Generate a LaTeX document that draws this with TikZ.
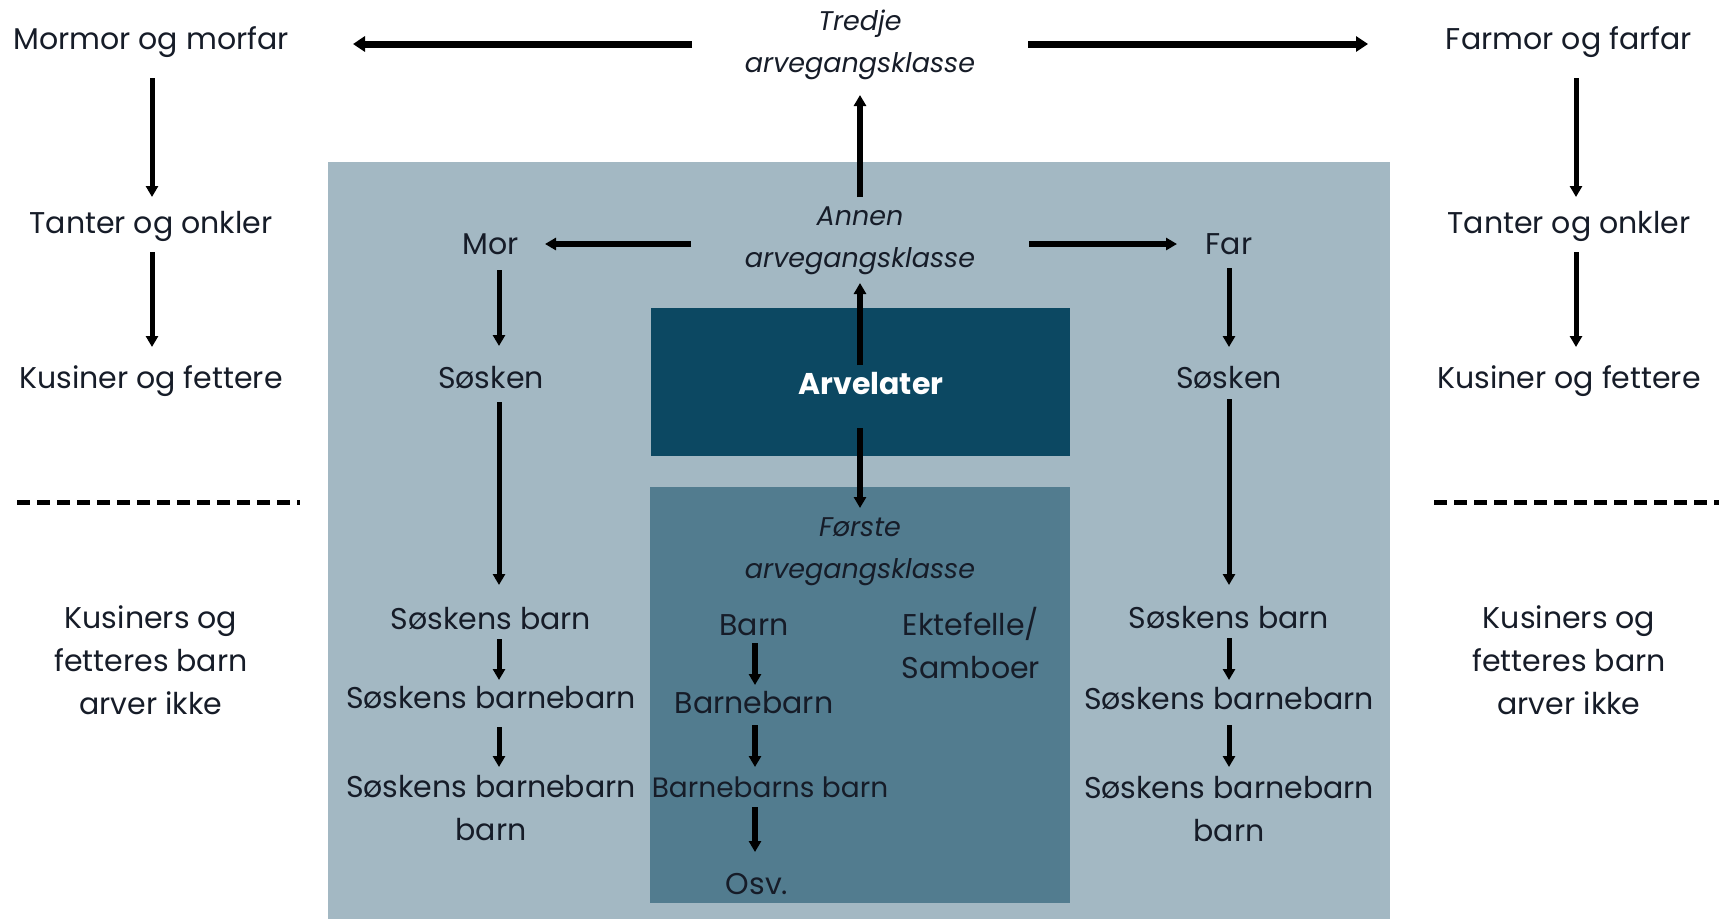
\documentclass[tikz,border=0pt]{standalone}
\usepackage{fontspec}
\setmainfont{Poppins}
\usetikzlibrary{arrows.meta}
\definecolor{outerbox}{RGB}{163,184,195}
\definecolor{darkbox}{RGB}{12,72,98}
\definecolor{midbox}{RGB}{82,124,143}
\definecolor{txt}{RGB}{22,28,40}
\begin{document}
\begin{tikzpicture}[x=1pt,y=-1pt,
  lbl/.style={inner sep=0pt, align=center, text=txt, font=\fontsize{30}{43}\selectfont},
  ital/.style={inner sep=0pt, align=center, text=txt, font=\fontsize{27}{42}\selectfont\itshape},
  arr/.style={line width=5pt, draw=black, -{Triangle[width=12pt,length=11pt]}},
  arrbig/.style={line width=7pt, draw=black, -{Triangle[width=15pt,length=12pt]}},
  dashline/.style={line width=5pt, dash pattern=on 13pt off 7pt, draw=black}
]
\fill[white] (0,0) rectangle (1719,919);
\useasboundingbox (0,0) rectangle (1719,919);
% boxes
\fill[outerbox] (328,162) rectangle (1390,919);
\node[fill=darkbox, minimum width=419pt, minimum height=148pt, inner sep=0pt, outer sep=0pt] (arvelater) at (860,382) {};
\fill[midbox] (650,487) rectangle (1070,903);
% top labels
\node[ital] (tredje) at (860,45) {Tredje\\arvegangsklasse};
\node[lbl] (mormor) at (151,42) {Mormor og morfar};
\node[lbl] (farmor) at (1569,42) {Farmor og farfar};
\node[lbl] (tanterL) at (151,226) {Tanter og onkler};
\node[lbl] (tanterR) at (1569,226) {Tanter og onkler};
\node[lbl] (kusinerL) at (151,381) {Kusiner og fettere};
\node[lbl] (kusinerR) at (1569,381) {Kusiner og fettere};
\node[lbl] (ikkeL) at (151,660) {Kusiners og\\fetteres barn\\arver ikke};
\node[lbl] (ikkeR) at (1569,660) {Kusiners og\\fetteres barn\\arver ikke};
% second class
\node[ital] (annen) at (860,241) {Annen\\arvegangsklasse};
\node[lbl] (mor) at (491,244) {Mor};
\node[lbl] (far) at (1229,244) {Far};
\node[lbl] (soskenL) at (491,378) {Søsken};
\node[lbl] (soskenR) at (1229,378) {Søsken};
\node[lbl] (sbL) at (491,619) {Søskens barn};
\node[lbl] (sbR) at (1229,618) {Søskens barn};
\node[lbl] (sbbL) at (491,698) {Søskens barnebarn};
\node[lbl] (sbbR) at (1229,699) {Søskens barnebarn};
\node[lbl] (sbbbL) at (491,808) {Søskens barnebarn\\barn};
\node[lbl] (sbbbR) at (1229,809) {Søskens barnebarn\\barn};
% first class
\node[lbl, text=white, font=\fontsize{30}{43}\selectfont\bfseries] (arvtxt) at (871,384) {Arvelater};
\node[ital] (forste) at (860,552) {Første\\arvegangsklasse};
\node[lbl] (barn) at (754,625) {Barn};
\node[lbl] (barnebarn) at (754,703) {Barnebarn};
\node[lbl, font=\fontsize{28}{43}\selectfont] (bbb) at (770,787) {Barnebarns barn};
\node[lbl] (osv) at (757,884) {Osv.};
\node[lbl] (ektefelle) at (971,643) {Ektefelle/\\Samboer};
% dashed separators
\draw[dashline] (17,502) -- (300,502);
\draw[dashline] (1434,502) -- (1719,502);
% top arrows
\draw[arrbig, shorten <=168pt, shorten >=202pt] (tredje.center |- 0,44) -- (mormor.center |- 0,44);
\draw[arrbig, shorten <=168pt, shorten >=201pt] (tredje.center |- 0,44) -- (farmor.center |- 0,44);
\draw[arr, line width=6pt, shorten <=44pt, shorten >=50pt] (annen.center) -- (tredje.center);
% outer columns
\draw[arr, shorten <=36pt, shorten >=29pt] ([xshift=1pt]mormor.center) -- ([xshift=1pt]tanterL.center);
\draw[arr, shorten <=26pt, shorten >=34pt] ([xshift=1pt]tanterL.center) -- ([xshift=1pt]kusinerL.center);
\draw[arr, shorten <=36pt, shorten >=29pt] ([xshift=7pt]farmor.center) -- ([xshift=7pt]tanterR.center);
\draw[arr, shorten <=26pt, shorten >=34pt] ([xshift=7pt]tanterR.center) -- ([xshift=7pt]kusinerR.center);
% second class arrows
\draw[arr, line width=6pt, shorten <=17pt, shorten >=42pt] (arvelater.center) -- (annen.center);
\draw[arr, line width=6pt, shorten <=169pt, shorten >=54pt] (annen.center |- mor.center) -- (mor.center);
\draw[arr, line width=6pt, shorten <=169pt, shorten >=52pt] (annen.center |- far.center) -- (far.center);
\draw[arr, shorten <=26pt, shorten >=32pt] ([xshift=8pt]mor.center) -- ([xshift=8pt]soskenL.center);
\draw[arr, shorten <=24pt, shorten >=34pt] ([xshift=8pt]soskenL.center) -- ([xshift=8pt]sbL.center);
\draw[arr, shorten <=20pt, shorten >=18pt] ([xshift=8pt]sbL.center) -- ([xshift=8pt]sbbL.center);
\draw[arr, shorten <=29pt, shorten >=41pt] ([xshift=8pt]sbbL.center) -- ([xshift=8pt]sbbbL.center);
\draw[arr, shorten <=24pt, shorten >=31pt] (far.center) -- (soskenR.center);
\draw[arr, shorten <=21pt, shorten >=33pt] (soskenR.center) -- (sbR.center);
\draw[arr, shorten <=20pt, shorten >=19pt] (sbR.center) -- (sbbR.center);
\draw[arr, shorten <=26pt, shorten >=42pt] (sbbR.center) -- (sbbbR.center);
% first class arrows
\draw[arr, line width=6pt, shorten <=46pt, shorten >=44pt] (arvelater.center) -- (forste.center);
\draw[arr, line width=6pt, shorten <=18pt, shorten >=18pt] ([xshift=1pt]barn.center) -- ([xshift=1pt]barnebarn.center);
\draw[arr, line width=6pt, shorten <=22pt, shorten >=20pt] ([xshift=1pt]barnebarn.center) -- ([xshift=1pt]barnebarn.center |- bbb.center);
\draw[arr, line width=6pt, shorten <=20pt, shorten >=32pt] ([xshift=1pt]barnebarn.center |- bbb.center) -- ([xshift=1pt]barnebarn.center |- osv.center);
\end{tikzpicture}
\end{document}
